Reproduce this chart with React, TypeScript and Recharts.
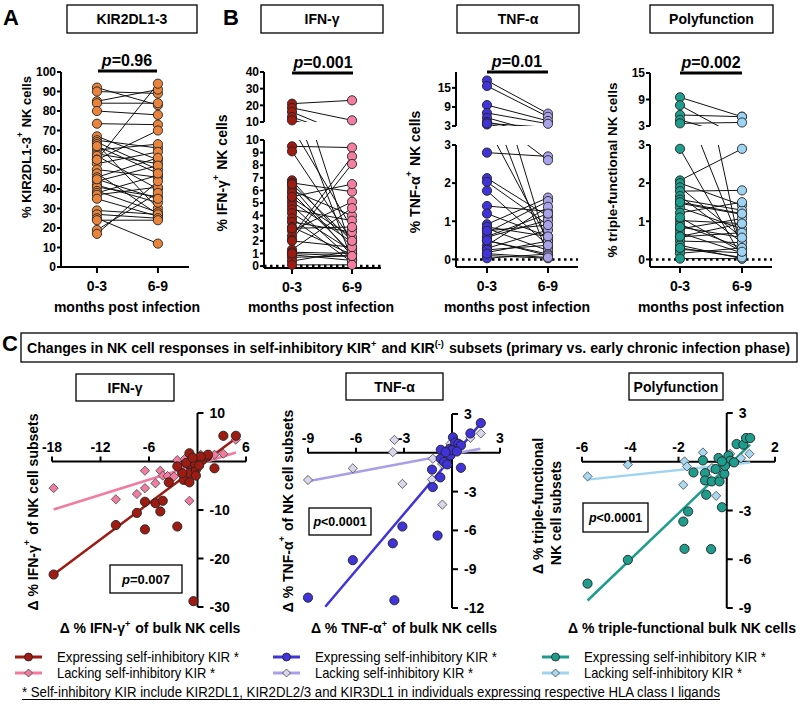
import React from 'react';
import { ComposedChart, Line, Scatter, XAxis, YAxis, ReferenceLine, ReferenceDot } from 'recharts';

const FONT = '"Liberation Sans", Arial, Helvetica, sans-serif';

// ---- paired data (0-3 vs 6-9 months) ----
const groups = ['0-3', '6-9'];

const kirPre = [92, 90, 85, 84, 80, 73.5, 67, 65, 64, 63, 60, 58, 57, 55, 53, 50, 48, 46, 44, 42, 41, 39, 38, 37, 35, 29, 27, 25, 24, 19, 17, 55, 62, 45];
const kirPost = [83, 89, 91, 84, 78, 73, 55, 61, 50, 30, 63, 53, 40, 94, 59, 46, 27, 56, 52, 33, 36, 28, 47, 41, 26, 27, 25, 12, 24, 38, 44, 70, 48, 35];

const ifnPre = [21, 18.5, 16, 13, 11, 9.5, 9.1, 6.8, 6.6, 6.3, 6.0, 5.8, 5.4, 5.1, 4.8, 4.5, 4.2, 3.8, 3.5, 3.1, 2.8, 2.4, 2.1, 1.3, 1.1, 0.9, 0.7, 0.4, 0.1, 5.5, 3.0, 2.0, 6.5, 1.0];
const ifnPost = [23, 11, 1.2, 0.5, 3, 9.4, 2.0, 1.5, 5.9, 0.8, 4.0, 1.0, 2.3, 1.9, 0.5, 3.6, 1.2, 0.3, 2.7, 0.9, 5.1, 8.7, 8.1, 4.6, 1.0, 0.45, 0.8, 1.2, 0.1, 6.5, 3.1, 1.5, 2.0, 0.8];

const tnfPre = [17.3, 15.6, 9.6, 7.1, 5.6, 4.3, 3.5, 2.8, 2.13, 2.03, 1.8, 1.4, 1.2, 0.92, 0.81, 0.7, 0.58, 0.49, 0.37, 0.29, 0.18, 0.1, 0.03, 0.85, 0.6, 0.25, 0.5, 0.15, 0.75, 3.8];
const tnfPost = [6.9, 5.9, 4.6, 3.7, 0.3, 0.1, 0.5, 2.7, 1.13, 0.9, 0.37, 1.26, 0.6, 1.62, 0.23, 1.53, 1.03, 0.14, 1.38, 0.77, 0.48, 0.03, 0.14, 0.6, 1.2, 0.37, 0.1, 0.05, 0.9, 2.6];

const polyPre = [9.5, 7.7, 5.5, 4.4, 2.9, 2.07, 2.0, 1.89, 1.79, 1.66, 1.57, 1.47, 1.36, 1.22, 1.02, 0.92, 0.8, 0.7, 0.59, 0.48, 0.37, 0.26, 0.16, 0.02, 1.5, 0.85, 0.3, 0.6, 1.1, 3.6];
const polyPost = [5.1, 0.1, 5.1, 0.3, 0.05, 2.9, 1.42, 0.57, 1.81, 0.44, 1.29, 1.18, 0.8, 1.5, 0.94, 0.3, 1.07, 0.17, 0.7, 0.44, 0.02, 0.17, 0.3, 0.02, 1.2, 0.57, 0.05, 0.94, 0.2, 3.8];

const kirTicks = [0, 10, 20, 30, 40, 50, 60, 70, 80, 90, 100];
const ifnUpperTicks = [10, 20, 30, 40];
const ifnLowerTicks = [0, 1, 2, 3, 4, 5, 6, 7, 8, 9, 10];
const upperTicks15 = [3, 9, 15];
const lowerTicks3 = [0, 1, 2, 3];

// ---- correlation data (delta subsets vs delta bulk) ----
const ifnExp: [number, number][] = [[-17.8, -23.3], [-10.1, -13.1], [-7.5, -10.6], [-6.5, -14], [-6.5, -8.3], [-5.2, -8.6], [-4.6, -10.3], [-4.3, -8.1], [-2.5, -13.4], [-3.55, -4.3], [-1.7, -3.8], [-1.0, 1.7], [-1.0, -0.7], [-1.0, -2.4], [-1.0, -4.3], [-1.9, -2.4], [-0.2, -1.7], [-0.2, -2.9], [-0.4, -0.3], [0.6, 0.3], [1.2, 1.0], [1.3, 1.4], [0.4, 1.0], [2.1, -1.4], [3.2, 5.3], [4.75, 5.3], [-0.5, -28.8], [-2.5, -1.0], [-1.4, -0.3], [-0.6, 0.8], [0.2, -0.8]];
const ifnLack: [number, number][] = [[-17.8, -5.5], [-10.1, -7.8], [-7.5, -6.7], [-6.5, -1.9], [-6.5, -5.5], [-5.2, -4.5], [-4.6, -1.9], [-4.3, -2.9], [-3.7, -3.0], [-2.9, -3.1], [-2.5, 0.3], [-2.1, -1.0], [-1.0, -8.1], [-1.2, -0.3], [-0.6, 0], [0.4, 1.4], [2.1, 1.4], [3.2, 1.6], [4.75, 4.5], [-1.6, 0.5], [0.9, 0.6]];
const ifnExpFit: [number, number][] = [[-17.8, -23.3], [4.75, 4.8]];
const ifnLackFit: [number, number][] = [[-17.8, -9.9], [4.75, 1.86]];

const tnfExp: [number, number][] = [[-9.0, -11.2], [-6.2, -8.3], [-3.7, -7.0], [-3.1, -5.7], [-3.6, -11.4], [-0.9, -6.4], [-1.2, -2.65], [-0.73, -1.9], [-1.25, -1.3], [-0.7, 0.23], [-0.15, 0.3], [0.06, 1.2], [0.2, 0.8], [-0.1, -0.2], [-0.7, -0.46], [0.4, 0.7], [0.56, 0.57], [0.56, -1.16], [1.15, 1.5], [1.8, 2.3], [-0.5, -0.7], [0, 0.2], [-0.4, 0.05], [0.3, 0.1], [-0.3, -0.9]];
const tnfLack: [number, number][] = [[-9, -2.1], [-6.2, -1.2], [-3.6, 1.0], [-3.7, 0.05], [-3.1, -2.4], [-1.2, -0.46], [-1.25, -2.06], [-0.6, -4.0], [1.8, 1.5], [1.15, 1.16], [-0.62, -0.85], [-0.1, 0.7], [-0.3, -0.2], [0.2, 0.44]];
const tnfExpFit: [number, number][] = [[-7.92, -11.9], [1.77, 2.24]];
const tnfLackFit: [number, number][] = [[-9, -2.2], [1.77, 0.31]];

const polyExp: [number, number][] = [[-5.77, -7.5], [-4.1, -6.04], [-1.75, -5.36], [-1.8, -3.68], [-1.6, -3.06], [-0.65, -5.38], [-0.2, -2.8], [-0.85, -2.03], [-1.38, -0.66], [-0.99, 0.08], [-0.9, -0.7], [-0.9, -1.15], [-0.62, -1.21], [-0.3, -1.21], [-0.1, -0.74], [-0.46, -0.45], [-0.34, 0.23], [0.07, 0.37], [0.14, 0.06], [0.3, -0.04], [-0.07, -0.25], [0.41, 1.09], [0.69, 1.05], [0.8, 1.46], [0.97, 1.46], [-0.2, 0.02]];
const polyLack: [number, number][] = [[-5.77, -0.9], [-4.1, -0.18], [-1.75, 0.02], [-1.65, -0.29], [-1.8, -1.42], [-0.99, 0.57], [-0.44, -2.1], [-0.83, -0.86], [-0.62, -0.39], [-0.2, -0.66], [0.59, 0.22], [0.94, 0.49], [0.14, 0.49]];
const polyExpFit: [number, number][] = [[-5.77, -8.54], [0.97, 1.05]];
const polyLackFit: [number, number][] = [[-5.77, -1.1], [0.97, -0.04]];

const ifnXTicks = [-18, -12, -6, 6];
const ifnYTicks = [10, -10, -20, -30];
const tnfXTicks = [-9, -6, -3, 3];
const tnfYTicks = [3, -3, -6, -9, -12];
const polyXTicks = [-6, -4, -2, 2];
const polyYTicks = [3, -3, -6, -9];

const legendNames = ['Expressing self-inhibitory KIR *', 'Lacking self-inhibitory KIR *'];

const C = {
  kir: '#E8843C',
  ifnPre: '#9E1B12', ifnPost: '#F27FA0',
  tnfPre: '#3F33D9', tnfPost: '#A9A3EA',
  polyPre: '#1E9C8C', polyPost: '#9FD3F2',
  ifnLackFill: '#F07CA0', ifnLackLine: '#F27A9C',
  tnfLackFill: '#D8D7EC', tnfLackLine: '#A89FE8',
  polyLackFill: '#A8D8F2', polyLackLine: '#9FD4F0',
};

const toXY = (arr: [number, number][]) => arr.map(([x, y]) => ({ x, y }));

const circleShape = (fill: string, r = 4.6) => (props: any) => (
  <circle cx={props.cx} cy={props.cy} r={r} fill={fill} stroke="#222" strokeWidth={0.9} />
);
const diamondShape = (fill: string) => (props: any) => {
  const { cx, cy } = props;
  const s = 4.6;
  return <path d={`M${cx},${cy - s}L${cx + s},${cy}L${cx},${cy + s}L${cx - s},${cy}Z`} fill={fill} stroke="#444" strokeWidth={0.8} />;
};

interface SegProps {
  pre: number[];
  post: number[];
  left: number;
  top: number;
  width: number;
  height: number;
  domain: [number, number];
  ticks: number[];
  xDomain: [number, number];
  preColor: string;
  postColor: string;
  bottom?: boolean;
  zero?: boolean;
}

const tickFont = { fontSize: 12, fontWeight: 700, fill: '#000', fontFamily: FONT };

function PairSegment(p: SegProps) {
  const padT = 10;
  const padR = 12;
  const yW = 40;
  const xH = p.bottom ? 40 : 0;
  const padB = p.bottom ? 0 : 10;
  const inRange = (v: number) => v >= p.domain[0] && v <= p.domain[1];
  const preDots = p.pre.filter(inRange).map((y) => ({ x: 0, y }));
  const postDots = p.post.filter(inRange).map((y) => ({ x: 1, y }));
  return (
    <div style={{ position: 'absolute', left: p.left - yW, top: p.top - padT }}>
      <ComposedChart width={yW + p.width + padR} height={padT + p.height + padB + xH} margin={{ top: padT, right: padR, bottom: padB, left: 0 }}>
        <XAxis
          type="number"
          dataKey="x"
          domain={p.xDomain}
          ticks={[0, 1]}
          hide={!p.bottom}
          height={xH}
          tickFormatter={(v: number) => groups[v]}
          axisLine={{ stroke: '#000', strokeWidth: 2 }}
          tickLine={{ stroke: '#000', strokeWidth: 2 }}
          tickSize={6}
          tickMargin={8}
          tick={{ ...tickFont, fontSize: 14 }}
        />
        <YAxis
          yAxisId="vis"
          type="number"
          dataKey="y"
          domain={p.domain}
          ticks={p.ticks}
          interval={0}
          width={yW}
          axisLine={{ stroke: '#000', strokeWidth: 2 }}
          tickLine={{ stroke: '#000', strokeWidth: 2 }}
          tickSize={4}
          tickMargin={1}
          tick={tickFont}
        />
        <YAxis yAxisId="clip" type="number" dataKey="y" domain={p.domain} allowDataOverflow hide width={0} />
        {p.zero && <ReferenceLine yAxisId="vis" y={0} stroke="#000" strokeWidth={2.5} strokeDasharray="2.5 3.5" />}
        {p.pre.map((a, i) => (
          <Line
            key={i}
            yAxisId="clip"
            data={[{ x: 0, y: a }, { x: 1, y: p.post[i] }]}
            dataKey="y"
            stroke="#111"
            strokeWidth={1}
            dot={false}
            isAnimationActive={false}
          />
        ))}
        <Scatter yAxisId="vis" data={preDots} dataKey="y" shape={circleShape(p.preColor)} isAnimationActive={false} />
        <Scatter yAxisId="vis" data={postDots} dataKey="y" shape={circleShape(p.postColor)} isAnimationActive={false} />
      </ComposedChart>
    </div>
  );
}

interface CorrProps {
  left: number;
  top: number;
  width: number;
  height: number;
  xDomain: [number, number];
  yDomain: [number, number];
  xTicks: number[];
  yTicks: number[];
  exp: [number, number][];
  lack: [number, number][];
  expFit: [number, number][];
  lackFit: [number, number][];
  expColor: string;
  lackFill: string;
  lackLine: string;
}

const corrFont = { fontSize: 14, fontWeight: 700, fill: '#000', fontFamily: FONT };

function CorrPanel(p: CorrProps) {
  const pad = 14;
  const xTick = (t: number) => (props: any) => (
    <g>
      <line x1={props.cx} y1={props.cy} x2={props.cx} y2={props.cy - 5} stroke="#000" strokeWidth={2} />
      <text x={props.cx} y={props.cy - 10} textAnchor="middle" {...corrFont}>{t}</text>
    </g>
  );
  const yTick = (t: number) => (props: any) => (
    <g>
      <line x1={props.cx} y1={props.cy} x2={props.cx + 6} y2={props.cy} stroke="#000" strokeWidth={2} />
      <text x={props.cx + 12} y={props.cy + 5} textAnchor="start" {...corrFont}>{t}</text>
    </g>
  );
  return (
    <div style={{ position: 'absolute', left: p.left - pad, top: p.top - pad }}>
      <ComposedChart width={p.width + 2 * pad} height={p.height + 2 * pad} margin={{ top: pad, right: pad, bottom: pad, left: pad }}>
        <XAxis type="number" dataKey="x" domain={p.xDomain} hide />
        <YAxis type="number" dataKey="y" domain={p.yDomain} hide />
        <ReferenceLine x={0} stroke="#000" strokeWidth={2} />
        <ReferenceLine y={0} stroke="#000" strokeWidth={2} />
        {p.xTicks.map((t) => (
          <ReferenceDot key={`x${t}`} x={t} y={0} r={0} shape={xTick(t)} />
        ))}
        {p.yTicks.map((t) => (
          <ReferenceDot key={`y${t}`} x={0} y={t} r={0} shape={yTick(t)} />
        ))}
        <Line data={toXY(p.lackFit)} dataKey="y" stroke={p.lackLine} strokeWidth={2.5} dot={false} isAnimationActive={false} />
        <Line data={toXY(p.expFit)} dataKey="y" stroke={p.expColor} strokeWidth={2.5} dot={false} isAnimationActive={false} />
        <Scatter data={toXY(p.lack)} dataKey="y" shape={diamondShape(p.lackFill)} isAnimationActive={false} />
        <Scatter data={toXY(p.exp)} dataKey="y" shape={circleShape(p.expColor)} isAnimationActive={false} />
      </ComposedChart>
    </div>
  );
}

const Sup = ({ t }: { t: string }) => (
  <>
    <tspan dy={-6} fontSize="0.65em">{t}</tspan>
    <tspan dy={6}>{'\u200a'}</tspan>
  </>
);

function Overlay() {
  const bold = { fontFamily: FONT, fontWeight: 700, fill: '#000' } as const;
  const box = (x: number, y: number, w: number, h: number, label: string) => (
    <g>
      <rect x={x} y={y} width={w} height={h} fill="none" stroke="#000" strokeWidth={1.3} />
      <text x={x + w / 2} y={y + h / 2 + 5} textAnchor="middle" fontSize={14} {...bold}>{label}</text>
    </g>
  );
  const pval = (cx: number, x1: number, x2: number, y: number, v: string) => (
    <g>
      <text x={cx} y={y - 5} textAnchor="middle" fontSize={16} {...bold}>
        <tspan fontStyle="italic">p</tspan>{v}
      </text>
      <line x1={x1} y1={y} x2={x2} y2={y} stroke="#000" strokeWidth={3} />
    </g>
  );
  const rot = (cx: number, cy: number, fs: number, children: React.ReactNode) => (
    <text x={cx} y={cy} transform={`rotate(-90 ${cx} ${cy})`} textAnchor="middle" dominantBaseline="central" fontSize={fs} {...bold}>
      {children}
    </text>
  );
  const pbox = (x: number, y: number, w: number, h: number, fs: number, v: string) => (
    <g>
      <rect x={x} y={y} width={w} height={h} fill="#fff" stroke="#000" strokeWidth={1.3} />
      <text x={x + w / 2} y={y + h / 2 + fs * 0.36} textAnchor="middle" fontSize={fs} {...bold}>
        <tspan fontStyle="italic">p</tspan>{v}
      </text>
    </g>
  );
  const legendCols = [
    { x: 15, exp: C.ifnPre, lackFill: C.ifnLackFill, lackLine: C.ifnLackLine },
    { x: 273, exp: C.tnfPre, lackFill: C.tnfLackFill, lackLine: C.tnfLackLine },
    { x: 542, exp: C.polyPre, lackFill: C.polyLackFill, lackLine: C.polyLackLine },
  ];
  const mpi = [127, 321, 517, 711];
  return (
    <svg width={800} height={716} style={{ position: 'absolute', left: 0, top: 0, pointerEvents: 'none' }}>
      {/* panel letters */}
      <text x={3} y={25} fontSize={22} {...bold}>A</text>
      <text x={223} y={25} fontSize={22} {...bold}>B</text>
      <text x={2} y={351} fontSize={22} {...bold}>C</text>

      {box(67, 5, 130, 28, 'KIR2DL1-3')}
      {box(261, 5, 122, 28, 'IFN-γ')}
      {box(457, 5, 122, 28, 'TNF-α')}
      {box(650, 5, 123, 28, 'Polyfunction')}

      {pval(127, 98, 157, 71, '=0.96')}
      {pval(323, 292, 353, 73, '=0.001')}
      {pval(517, 487, 548, 72, '=0.01')}
      {pval(711, 680, 742, 73, '=0.002')}

      {rot(26, 147, 13, <>% KIR2DL1-3<Sup t="+" /> NK cells</>)}
      {rot(222, 173, 14, <>% IFN-γ<Sup t="+" /> NK cells</>)}
      {rot(415, 172, 14, <>% TNF-α<Sup t="+" /> NK cells</>)}
      {rot(612, 170, 13.5, <>% triple-functional NK cells</>)}

      {mpi.map((cx) => (
        <text key={cx} x={cx} y={312} textAnchor="middle" fontSize={14} {...bold}>months post infection</text>
      ))}

      {/* panel C header */}
      <rect x={21} y={333} width={776} height={29} fill="none" stroke="#000" strokeWidth={1.3} />
      <text x={27} y={353} fontSize={14} textLength={763} lengthAdjust="spacingAndGlyphs" {...bold}>
        Changes in NK cell responses in self-inhibitory KIR<Sup t="+" /> and KIR<Sup t="(-)" /> subsets (primary vs. early chronic infection phase)
      </text>

      {box(76, 374, 98, 27, 'IFN-γ')}
      {box(346, 373, 97, 27, 'TNF-α')}
      {box(629, 373, 94, 27, 'Polyfunction')}

      {rot(33, 512, 14, <>Δ % IFN-γ<Sup t="+" /> of NK cell subsets</>)}
      {rot(288, 511, 14, <>Δ % TNF-α<Sup t="+" /> of NK cell subsets</>)}
      {rot(538, 506, 14, <>Δ % triple-functional</>)}
      {rot(556, 513, 14, <>NK cell subsets</>)}

      {/* p-value boxes in C */}
      {pbox(110, 565, 72, 28, 13, '=0.007')}
      {pbox(309, 508, 62, 27, 12.5, '<0.0001')}
      {pbox(583, 503, 65, 29, 12.5, '<0.0001')}

      <text x={150} y={633} textAnchor="middle" fontSize={14} {...bold}>Δ % IFN-γ<Sup t="+" /> of bulk NK cells</text>
      <text x={404} y={633} textAnchor="middle" fontSize={14} {...bold}>Δ % TNF-α<Sup t="+" /> of bulk NK cells</text>
      <text x={682} y={633} textAnchor="middle" fontSize={14} {...bold}>Δ % triple-functional bulk NK cells</text>

      {/* legend */}
      {legendCols.map((c) => (
        <g key={c.x}>
          <line x1={c.x} y1={657} x2={c.x + 27} y2={657} stroke={c.exp} strokeWidth={3} />
          <circle cx={c.x + 13.5} cy={657} r={4} fill={c.exp} stroke="#222" strokeWidth={0.8} />
          <text x={c.x + 42} y={662} fontSize={15} fontFamily={FONT} fill="#000" textLength={182} lengthAdjust="spacingAndGlyphs">{legendNames[0]}</text>
          <line x1={c.x} y1={673} x2={c.x + 27} y2={673} stroke={c.lackLine} strokeWidth={3} />
          <path d={`M${c.x + 13.5},${669}L${c.x + 17.5},${673}L${c.x + 13.5},${677}L${c.x + 9.5},${673}Z`} fill={c.lackFill} stroke="#444" strokeWidth={0.8} />
          <text x={c.x + 42} y={678} fontSize={15} fontFamily={FONT} fill="#000" textLength={158} lengthAdjust="spacingAndGlyphs">{legendNames[1]}</text>
        </g>
      ))}
      <text x={22} y={697} fontSize={14} fontFamily={FONT} fill="#000" textLength={698} lengthAdjust="spacingAndGlyphs">
        * Self-inhibitory KIR include KIR2DL1, KIR2DL2/3 and KIR3DL1 in individuals expressing respective HLA class I ligands
      </text>
      <line x1={22} y1={699.5} x2={720} y2={699.5} stroke="#000" strokeWidth={1} />
    </svg>
  );
}

export default function App() {
  return (
    <div style={{ position: 'absolute', left: 0, top: 0, width: 800, height: 716, background: '#fff', fontFamily: FONT }}>
      {/* A */}
      <PairSegment pre={kirPre} post={kirPost} left={61} top={72} width={128} height={195} domain={[0, 100]} ticks={kirTicks}
        xDomain={[-0.59, 1.51]} preColor={C.kir} postColor={C.kir} bottom />
      {/* B IFN */}
      <PairSegment pre={ifnPre} post={ifnPost} left={264} top={72} width={117} height={50} domain={[10, 40]} ticks={ifnUpperTicks}
        xDomain={[-0.467, 1.483]} preColor={C.ifnPre} postColor={C.ifnPost} />
      <PairSegment pre={ifnPre} post={ifnPost} left={264} top={140} width={117} height={128} domain={[-0.15, 10]} ticks={ifnLowerTicks}
        xDomain={[-0.467, 1.483]} preColor={C.ifnPre} postColor={C.ifnPost} bottom zero />
      {/* B TNF */}
      <PairSegment pre={tnfPre} post={tnfPost} left={456} top={72} width={122} height={54} domain={[3, 20]} ticks={upperTicks15}
        xDomain={[-0.508, 1.492]} preColor={C.tnfPre} postColor={C.tnfPost} />
      <PairSegment pre={tnfPre} post={tnfPost} left={456} top={145} width={122} height={122} domain={[-0.2, 3]} ticks={lowerTicks3}
        xDomain={[-0.508, 1.492]} preColor={C.tnfPre} postColor={C.tnfPost} bottom zero />
      {/* B Poly */}
      <PairSegment pre={polyPre} post={polyPost} left={650} top={73} width={122} height={53} domain={[3, 15]} ticks={upperTicks15}
        xDomain={[-0.484, 1.484]} preColor={C.polyPre} postColor={C.polyPost} />
      <PairSegment pre={polyPre} post={polyPost} left={650} top={145} width={122} height={122} domain={[-0.2, 3]} ticks={lowerTicks3}
        xDomain={[-0.484, 1.484]} preColor={C.polyPre} postColor={C.polyPost} bottom zero />

      {/* C */}
      <CorrPanel left={52} top={413} width={194} height={194} xDomain={[-18, 6]} yDomain={[-30, 10]} xTicks={ifnXTicks} yTicks={ifnYTicks}
        exp={ifnExp} lack={ifnLack} expFit={ifnExpFit} lackFit={ifnLackFit} expColor={C.ifnPre} lackFill={C.ifnLackFill} lackLine={C.ifnLackLine} />
      <CorrPanel left={308} top={413.5} width={192} height={194} xDomain={[-9, 3]} yDomain={[-12, 3]} xTicks={tnfXTicks} yTicks={tnfYTicks}
        exp={tnfExp} lack={tnfLack} expFit={tnfExpFit} lackFit={tnfLackFit} expColor={C.tnfPre} lackFill={C.tnfLackFill} lackLine={C.tnfLackLine} />
      <CorrPanel left={582} top={413} width={193} height={195} xDomain={[-6, 2]} yDomain={[-9, 3]} xTicks={polyXTicks} yTicks={polyYTicks}
        exp={polyExp} lack={polyLack} expFit={polyExpFit} lackFit={polyLackFit} expColor={C.polyPre} lackFill={C.polyLackFill} lackLine={C.polyLackLine} />

      <Overlay />
    </div>
  );
}
